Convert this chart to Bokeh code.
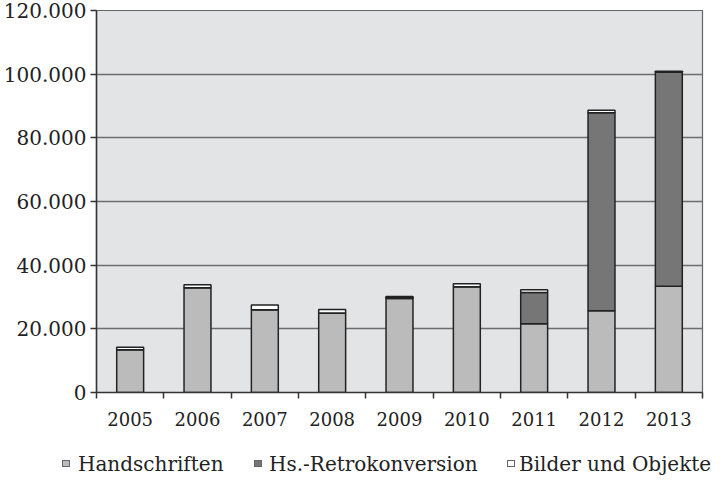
from bokeh.plotting import figure
from bokeh.layouts import column
from bokeh.models import (FixedTicker, CustomJSTickFormatter, Range1d, ColumnDataSource, Div)
from bokeh.embed import file_html
from bokeh.resources import INLINE

years = ["2005", "2006", "2007", "2008", "2009", "2010", "2011", "2012", "2013"]
handschriften = [13400, 32900, 26000, 25000, 29500, 33200, 21600, 25700, 33400]
retrokonversion = [0, 0, 0, 0, 400, 0, 9800, 62200, 67200]
bilder = [800, 950, 1450, 1100, 250, 1000, 850, 800, 350]
y_ticks = [0, 20000, 40000, 60000, 80000, 100000, 120000]

series = ["Handschriften", "Hs.-Retrokonversion", "Bilder und Objekte"]
colors = ["#bbbbbc", "#767676", "#ffffff"]

xpos = [i + 0.5 for i in range(len(years))]
src = ColumnDataSource(dict(x=xpos, h=handschriften, r=retrokonversion, b=bilder))

FONT = "DejaVu Serif"

p = figure(width=711, height=430, output_backend="svg", toolbar_location=None,
           x_range=Range1d(0, len(years)), y_range=Range1d(0, 120000),
           min_border_left=96, min_border_right=9, min_border_top=10,
           min_border_bottom=38)

p.vbar_stack(["h", "r", "b"], x="x", width=0.4, source=src,
             fill_color=colors, line_color="#222222", line_width=1.5)

p.background_fill_color = "#e3e4e6"
p.border_fill_color = "white"
p.outline_line_color = "#666666"
p.outline_line_width = 1.2

p.xgrid.grid_line_color = None
p.ygrid.grid_line_color = "#6d6d6d"
p.ygrid.grid_line_width = 1.5
p.ygrid.ticker = FixedTicker(ticks=y_ticks)

# y axis
p.yaxis.ticker = FixedTicker(ticks=y_ticks)
p.yaxis.formatter = CustomJSTickFormatter(
    code="return tick == 0 ? '0' : (tick/1000).toFixed(0) + '.000';")
p.yaxis.major_label_text_font = FONT
p.yaxis.major_label_text_font_size = "20px"
p.yaxis.major_label_text_color = "#222222"
p.yaxis.major_tick_out = 6
p.yaxis.major_tick_in = 0
p.yaxis.minor_tick_line_color = None
p.yaxis.axis_line_color = "#333333"
p.yaxis.axis_line_width = 1.5
p.yaxis.major_tick_line_color = "#333333"
p.yaxis.major_tick_line_width = 1.5
p.yaxis.major_label_standoff = 4

# x axis
p.xaxis.ticker = FixedTicker(ticks=xpos, minor_ticks=list(range(len(years) + 1)))
p.xaxis.major_label_overrides = {x: y for x, y in zip(xpos, years)}
p.xaxis.major_label_text_font = FONT
p.xaxis.major_label_text_font_size = "18px"
p.xaxis.major_label_text_color = "#222222"
p.xaxis.major_tick_out = 0
p.xaxis.major_tick_in = 0
p.xaxis.minor_tick_out = 6
p.xaxis.minor_tick_in = 0
p.xaxis.minor_tick_line_color = "#333333"
p.xaxis.minor_tick_line_width = 1.5
p.xaxis.axis_line_color = "#333333"
p.xaxis.axis_line_width = 1.5
p.xaxis.major_label_standoff = 13

# legend strip as HTML
swatch_left = [62, 254, 507]
label_left = [78, 269, 519]
parts = []
for name, col, sl, tl in zip(series, colors, swatch_left, label_left):
    parts.append(
        f'<span style="position:absolute;left:{sl}px;top:30px;width:8px;height:7px;'
        f'background:{col};border:1px solid #666666;"></span>'
        f'<span style="position:absolute;left:{tl}px;top:23px;line-height:22px;'
        f'white-space:nowrap;">{name}</span>')
html = (f'<div style="position:relative;width:711px;height:48px;'
        f"font-family:'{FONT}';font-size:20px;color:#222222;\">" + "".join(parts) + "</div>")
lg = Div(text=html, width=711, height=48, margin=(0, 0, 0, 0))

layout = column(p, lg, spacing=0)
open("out.html", "w").write(file_html(layout, INLINE))
